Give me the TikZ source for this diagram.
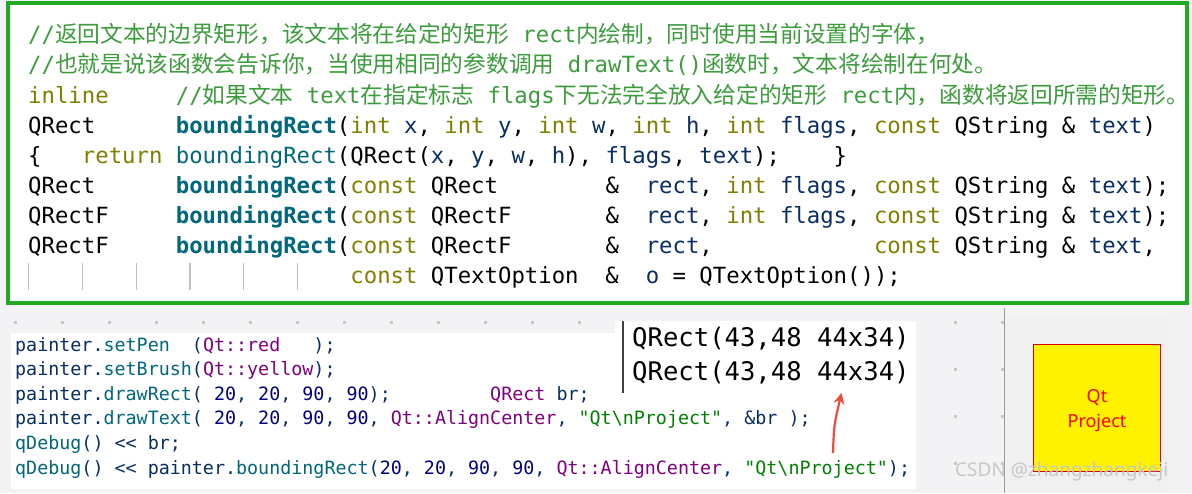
\documentclass[tikz,border=0pt]{standalone}
\usepackage{fontspec}
\usetikzlibrary{arrows.meta}
\setmonofont{DejaVu Sans Mono}
\setmainfont{Noto Sans}
\newfontfamily\cjk{Noto Sans CJK SC}
\definecolor{bg}{HTML}{F3F3F5}
\definecolor{gbox}{HTML}{22AA22}
\definecolor{cmt}{HTML}{3C9C3C}
\definecolor{kw}{HTML}{808000}
\definecolor{fn}{HTML}{00677C}
\definecolor{nv}{HTML}{092E64}
\definecolor{pur}{HTML}{800080}
\definecolor{num}{HTML}{000080}
\definecolor{str}{HTML}{008000}
\definecolor{arr}{HTML}{F04A3A}
\newcommand{\zh}[1]{{\cjk\fontsize{22.7}{26}\selectfont #1}}
\newcommand{\Cm}[1]{\textcolor{cmt}{#1}}
\newcommand{\Kw}[1]{\textcolor{kw}{#1}}
\newcommand{\Fb}[1]{\textcolor{fn}{\bfseries #1}}
\newcommand{\Fn}[1]{\textcolor{fn}{#1}}
\newcommand{\Nv}[1]{\textcolor{nv}{#1}}
\newcommand{\Pu}[1]{\textcolor{pur}{#1}}
\newcommand{\Nm}[1]{\textcolor{num}{#1}}
\newcommand{\St}[1]{\textcolor{str}{#1}}
\tikzset{
  top/.style={inner sep=0pt, anchor=mid west, font=\ttfamily\fontsize{22.3}{26}\selectfont},
  bot/.style={inner sep=0pt, anchor=mid west, text=nv, font=\ttfamily\fontsize{18.35}{22}\selectfont},
  outp/.style={inner sep=0pt, anchor=mid west, font=\ttfamily\fontsize{25.6}{30}\selectfont},
}
\begin{document}
\begin{tikzpicture}[x=1pt,y=-1pt]
\fill[bg] (0,0) rectangle (1192,493);
\useasboundingbox (0,0) rectangle (1192,493);
% grid dots
\foreach \i in {0,...,21}{\foreach \j in {0,1,2,3}{
  \fill[black!22] ({15+47*\i-1},{322+47*\j-1}) rectangle ++(2.5,2.5);}}
% top box
\draw[gbox, line width=4pt, fill=white] (8,3) rectangle (1187,303);
\node[top] (l1) at (28,40) {\Cm{//\zh{返回文本的边界矩形，该文本将在给定的矩形}~rect\zh{内绘制，同时使用当前设置的字体，}}};
\node[top] (l2) at (28,70) {\Cm{//\zh{也就是说该函数会告诉你，当使用相同的参数调用}~drawText()\zh{函数时，文本将绘制在何处。}}};
\node[top] (l3) at (28,101) {\Kw{inline}~~~~~\Cm{//\zh{如果文本}~text\zh{在指定标志}~flags\zh{下无法完全放入给定的矩形}~rect\zh{内，函数将返回所需的矩形。}}};
\node[top] (l4) at (28,131) {QRect~~~~~~\Fb{boundingRect}(\Kw{int}~\Nv{x},~\Kw{int}~\Nv{y},~\Kw{int}~\Nv{w},~\Kw{int}~\Nv{h},~\Kw{int}~\Nv{flags},~\Kw{const}~QString~\&~\Nv{text})};
\node[top] (l5) at (28,161) {\{~~~\Kw{return}~\Fn{boundingRect}(QRect(\Nv{x},~\Nv{y},~\Nv{w},~\Nv{h}),~\Nv{flags},~\Nv{text});~~~~\}};
\node[top] (l6) at (28,191) {QRect~~~~~~\Fb{boundingRect}(\Kw{const}~QRect~~~~~~~~\&~~\Nv{rect},~\Kw{int}~\Nv{flags},~\Kw{const}~QString~\&~\Nv{text});};
\node[top] (l7) at (28,221) {QRectF~~~~~\Fb{boundingRect}(\Kw{const}~QRectF~~~~~~~\&~~\Nv{rect},~\Kw{int}~\Nv{flags},~\Kw{const}~QString~\&~\Nv{text});};
\node[top] (l8) at (28,251) {QRectF~~~~~\Fb{boundingRect}(\Kw{const}~QRectF~~~~~~~\&~~\Nv{rect},~~~~~~~~~~~~\Kw{const}~QString~\&~\Nv{text},};
\node[top] (l9) at (28,281) {~~~~~~~~~~~~~~~~~~~~~~~~\Kw{const}~QTextOption~~\&~~\Nv{o}~=~QTextOption());};
\foreach \x in {28.5,82.3,136.1,189.9,243.7,297.5}
  \draw[black!25, line width=1.2pt] (\x,263) -- (\x,290);
% bottom code panel
\fill[white] (11,333) rectangle (916,489);
\node[bot] (b1) at (15,349) {painter.\Fn{setPen}~~(\Pu{Qt::red}~~~);};
\node[bot] (b2) at (15,373) {painter.\Fn{setBrush}(\Pu{Qt::yellow});};
\node[bot] (b3) at (15,398) {painter.\Fn{drawRect}(~\Nm{20},~\Nm{20},~\Nm{90},~\Nm{90});~~~~~~~~~\Pu{QRect}~br;};
\node[bot] (b4) at (15,422) {painter.\Fn{drawText}(~\Nm{20},~\Nm{20},~\Nm{90},~\Nm{90},~\Pu{Qt::AlignCenter},~\St{"Qt\textbackslash nProject"},~\&br~);};
\node[bot] (b5) at (15,447) {\Fn{qDebug}()~<{}<~br;};
\node[bot] (b6) at (15,472) {\Fn{qDebug}()~<{}<~painter.\Fn{boundingRect}(\Nm{20},~\Nm{20},~\Nm{90},~\Nm{90},~\Pu{Qt::AlignCenter},~\St{"Qt\textbackslash nProject"});};
% output panel
\fill[white] (615,321) rectangle (916,393);
\draw[black!75, line width=2pt] (622.5,321) -- (622.5,393);
\node[outp] (o1) at (632,344) {QRect(43,48~44x34)};
\node[outp] (o2) at (632,378) {QRect(43,48~44x34)};
% arrow
\coordinate (as) at (833,453);
\coordinate (ae) at (841.5,393);
\draw[arr, line width=2.2pt, -{Stealth[length=11pt,width=11pt]}] (as) .. controls (834,425) .. (ae);
% right panel
\draw[black!40, line width=1.5pt] (1004.5,308) -- (1004.5,493);
\fill[black!6] (1006,317) rectangle (1169,493);
\node[draw=red!85!black, line width=1.3pt, fill=yellow, minimum width=127pt, minimum height=127pt, inner sep=0pt] (qp) at (1097,408) {};
\node[text=red, align=center, inner sep=0pt, font=\fontsize{18}{25}\selectfont] (qt) at (1097,411) {Qt\\Project};
\node[inner sep=0pt, anchor=mid west, text=black!22, font=\fontsize{19}{22}\selectfont] (wm) at (955,474) {CSDN @zhangzhangkeji};
\end{tikzpicture}
\end{document}
